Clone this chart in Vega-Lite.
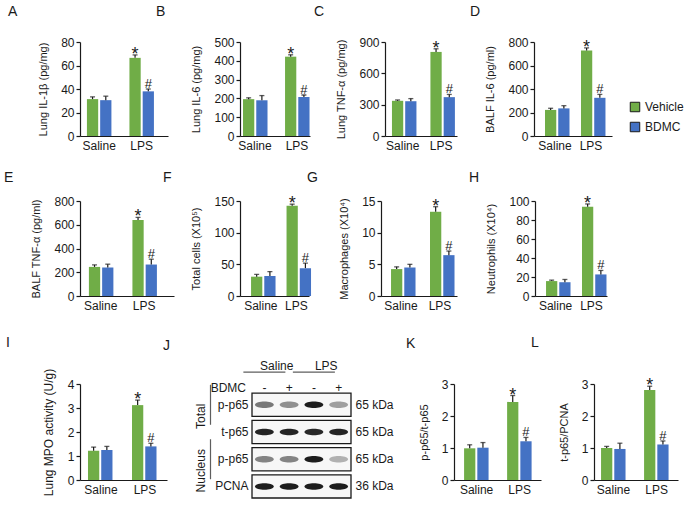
{
  "$schema": "https://vega.github.io/schema/vega-lite/v6.json",
  "background": "white",
  "padding": {"left": 4, "top": 4, "right": 5, "bottom": 5},
  "config": {
    "font": "Liberation Sans",
    "view": {"stroke": null},
    "axis": {"grid": false, "domainColor": "#1a1a1a", "tickColor": "#1a1a1a", "labelColor": "#1a1a1a", "titleColor": "#1a1a1a", "labelFontSize": 12, "titleFontSize": 11, "titleFontWeight": "normal", "domainWidth": 1.2, "tickWidth": 1.2, "labelFont": "Liberation Sans", "titleFont": "Liberation Sans"},
    "axisY": {"tickSize": 4, "labelPadding": 2, "titlePadding": 12},
    "axisX": {"ticks": false, "tickSize": 0, "labelPadding": 4, "labelAngle": 0},
    "title": {"fontSize": 14, "fontWeight": "normal", "anchor": "start", "frame": "group", "baseline": "alphabetic", "color": "#1a1a1a", "font": "Liberation Sans"},
    "legend": {"orient": "none", "legendX": 549, "legendY": 59, "labelFontSize": 12, "symbolType": "square", "symbolSize": 90, "symbolStrokeColor": "#1a1a1a", "symbolStrokeWidth": 1, "rowPadding": 6, "labelOffset": 4, "labelColor": "#1a1a1a"}
  },
  "datasets": {
    "bars": [
      {"panel": "A", "group": "Saline", "treat": "Vehicle", "value": 31.4, "hi": 33.3, "sig": ""},
      {"panel": "A", "group": "Saline", "treat": "BDMC", "value": 30.5, "hi": 33.9, "sig": ""},
      {"panel": "A", "group": "LPS", "treat": "Vehicle", "value": 66.5, "hi": 69, "sig": "*"},
      {"panel": "A", "group": "LPS", "treat": "BDMC", "value": 38, "hi": 40, "sig": "#"},
      {"panel": "B", "group": "Saline", "treat": "Vehicle", "value": 196, "hi": 203, "sig": ""},
      {"panel": "B", "group": "Saline", "treat": "BDMC", "value": 190, "hi": 215, "sig": ""},
      {"panel": "B", "group": "LPS", "treat": "Vehicle", "value": 422, "hi": 432, "sig": "*"},
      {"panel": "B", "group": "LPS", "treat": "BDMC", "value": 208, "hi": 218, "sig": "#"},
      {"panel": "C", "group": "Saline", "treat": "Vehicle", "value": 337, "hi": 345, "sig": ""},
      {"panel": "C", "group": "Saline", "treat": "BDMC", "value": 333, "hi": 358, "sig": ""},
      {"panel": "C", "group": "LPS", "treat": "Vehicle", "value": 805, "hi": 835, "sig": "*"},
      {"panel": "C", "group": "LPS", "treat": "BDMC", "value": 372, "hi": 398, "sig": "#"},
      {"panel": "D", "group": "Saline", "treat": "Vehicle", "value": 222, "hi": 236, "sig": ""},
      {"panel": "D", "group": "Saline", "treat": "BDMC", "value": 235, "hi": 258, "sig": ""},
      {"panel": "D", "group": "LPS", "treat": "Vehicle", "value": 728, "hi": 750, "sig": "*"},
      {"panel": "D", "group": "LPS", "treat": "BDMC", "value": 325, "hi": 354, "sig": "#"},
      {"panel": "E", "group": "Saline", "treat": "Vehicle", "value": 245, "hi": 262, "sig": ""},
      {"panel": "E", "group": "Saline", "treat": "BDMC", "value": 240, "hi": 268, "sig": ""},
      {"panel": "E", "group": "LPS", "treat": "Vehicle", "value": 640, "hi": 662, "sig": "*"},
      {"panel": "E", "group": "LPS", "treat": "BDMC", "value": 265, "hi": 310, "sig": "#"},
      {"panel": "F", "group": "Saline", "treat": "Vehicle", "value": 30.5, "hi": 34, "sig": ""},
      {"panel": "F", "group": "Saline", "treat": "BDMC", "value": 31.5, "hi": 38.5, "sig": ""},
      {"panel": "F", "group": "LPS", "treat": "Vehicle", "value": 142.5, "hi": 145, "sig": "*"},
      {"panel": "F", "group": "LPS", "treat": "BDMC", "value": 44, "hi": 52, "sig": "#"},
      {"panel": "G", "group": "Saline", "treat": "Vehicle", "value": 4.25, "hi": 4.6, "sig": ""},
      {"panel": "G", "group": "Saline", "treat": "BDMC", "value": 4.5, "hi": 5.0, "sig": ""},
      {"panel": "G", "group": "LPS", "treat": "Vehicle", "value": 13.3, "hi": 14.1, "sig": "*"},
      {"panel": "G", "group": "LPS", "treat": "BDMC", "value": 6.45, "hi": 7.1, "sig": "#"},
      {"panel": "H", "group": "Saline", "treat": "Vehicle", "value": 15.7, "hi": 16.7, "sig": ""},
      {"panel": "H", "group": "Saline", "treat": "BDMC", "value": 14.5, "hi": 17.4, "sig": ""},
      {"panel": "H", "group": "LPS", "treat": "Vehicle", "value": 94, "hi": 96.9, "sig": "*"},
      {"panel": "H", "group": "LPS", "treat": "BDMC", "value": 22.7, "hi": 26.9, "sig": "#"},
      {"panel": "I", "group": "Saline", "treat": "Vehicle", "value": 1.22, "hi": 1.37, "sig": ""},
      {"panel": "I", "group": "Saline", "treat": "BDMC", "value": 1.25, "hi": 1.4, "sig": ""},
      {"panel": "I", "group": "LPS", "treat": "Vehicle", "value": 3.12, "hi": 3.33, "sig": "*"},
      {"panel": "I", "group": "LPS", "treat": "BDMC", "value": 1.4, "hi": 1.53, "sig": "#"},
      {"panel": "K", "group": "Saline", "treat": "Vehicle", "value": 0.99, "hi": 1.1, "sig": ""},
      {"panel": "K", "group": "Saline", "treat": "BDMC", "value": 1.01, "hi": 1.17, "sig": ""},
      {"panel": "K", "group": "LPS", "treat": "Vehicle", "value": 2.44, "hi": 2.64, "sig": "*"},
      {"panel": "K", "group": "LPS", "treat": "BDMC", "value": 1.21, "hi": 1.33, "sig": "#"},
      {"panel": "L", "group": "Saline", "treat": "Vehicle", "value": 1.0, "hi": 1.05, "sig": ""},
      {"panel": "L", "group": "Saline", "treat": "BDMC", "value": 0.97, "hi": 1.15, "sig": ""},
      {"panel": "L", "group": "LPS", "treat": "Vehicle", "value": 2.81, "hi": 2.93, "sig": "*"},
      {"panel": "L", "group": "LPS", "treat": "BDMC", "value": 1.11, "hi": 1.22, "sig": "#"}
    ],
    "blotrows": [{"row": "r1"}, {"row": "r2"}, {"row": "r3"}, {"row": "r4"}],
    "bands": [
      {"row": "r1", "lane": 1, "level": 0.55}, {"row": "r1", "lane": 2, "level": 0.45}, {"row": "r1", "lane": 3, "level": 0.95}, {"row": "r1", "lane": 4, "level": 0.38},
      {"row": "r2", "lane": 1, "level": 0.92}, {"row": "r2", "lane": 2, "level": 0.92}, {"row": "r2", "lane": 3, "level": 0.9}, {"row": "r2", "lane": 4, "level": 0.92},
      {"row": "r3", "lane": 1, "level": 0.5}, {"row": "r3", "lane": 2, "level": 0.5}, {"row": "r3", "lane": 3, "level": 0.95}, {"row": "r3", "lane": 4, "level": 0.3},
      {"row": "r4", "lane": 1, "level": 0.95}, {"row": "r4", "lane": 2, "level": 0.95}, {"row": "r4", "lane": 3, "level": 0.95}, {"row": "r4", "lane": 4, "level": 0.95}
    ],
    "lanes": [
      {"lane": 1, "group": "Saline", "bdmc": "-"},
      {"lane": 2, "group": "Saline", "bdmc": "+"},
      {"lane": 3, "group": "LPS", "bdmc": "-"},
      {"lane": 4, "group": "LPS", "bdmc": "+"}
    ],
    "treatlabel": [{"lane": 1, "label": "BDMC"}],
    "comps": [{"comp": "Total", "row": "r1"}, {"comp": "Nucleus", "row": "r3"}]
  },
  "spacing": 24,
  "vconcat": [
    {
      "spacing": 19,
      "vconcat": [
        {
          "hconcat": [
            {
              "width": 88, "height": 94,
              "title": {"text": "A", "dx": -72, "offset": 17.5},
              "data": {"name": "bars"},
              "transform": [{"filter": "datum.panel == 'A'"}],
              "encoding": {
                "x": {"field": "group", "type": "nominal", "sort": ["Saline", "LPS"], "scale": {"paddingInner": 0.424, "paddingOuter": 0.247, "align": 0.33}, "axis": {"title": null}},
                "xOffset": {"field": "treat", "type": "nominal", "sort": ["Vehicle", "BDMC"], "scale": {"paddingInner": 0.15, "paddingOuter": 0}},
                "y": {"field": "value", "type": "quantitative", "scale": {"domain": [0, 80], "nice": false}, "axis": {"title": "Lung IL-1β (pg/mg)", "values": [0, 20, 40, 60, 80]}}
              },
              "layer": [
                {"mark": {"type": "bar"}, "encoding": {"color": {"field": "treat", "type": "nominal", "scale": {"domain": ["Vehicle", "BDMC"], "range": ["#70AD47", "#4472C4"]}, "legend": {"title": null}}}},
                {"mark": {"type": "rule", "color": "#1a1a1a", "strokeWidth": 1.2}, "encoding": {"y2": {"field": "hi"}}},
                {"mark": {"type": "tick", "color": "#1a1a1a", "size": 5, "thickness": 1.3}, "encoding": {"y": {"field": "hi", "type": "quantitative", "scale": {"domain": [0, 80], "nice": false}, "axis": {"title": "Lung IL-1β (pg/mg)", "values": [0, 20, 40, 60, 80]}}}},
                {"transform": [{"filter": "datum.sig == '*'"}], "mark": {"type": "text", "fontSize": 18, "dy": 5, "baseline": "alphabetic", "color": "#1a1a1a"}, "encoding": {"y": {"field": "hi", "type": "quantitative", "scale": {"domain": [0, 80], "nice": false}, "axis": {"title": "Lung IL-1β (pg/mg)", "values": [0, 20, 40, 60, 80]}}, "text": {"field": "sig"}}},
                {"transform": [{"filter": "datum.sig == '#'"}], "mark": {"type": "text", "fontSize": 13, "dy": -1, "baseline": "alphabetic", "color": "#1a1a1a"}, "encoding": {"y": {"field": "hi", "type": "quantitative", "scale": {"domain": [0, 80], "nice": false}, "axis": {"title": "Lung IL-1β (pg/mg)", "values": [0, 20, 40, 60, 80]}}, "text": {"field": "sig"}}}
              ]
            },
            {"width": 72, "height": 1, "data": {"values": []}, "mark": "point"},
            {
              "width": 70, "height": 94,
              "title": {"text": "B", "dx": -84, "offset": 17.5},
              "data": {"name": "bars"},
              "transform": [{"filter": "datum.panel == 'B'"}],
              "encoding": {
                "x": {"field": "group", "type": "nominal", "sort": ["Saline", "LPS"], "scale": {"paddingInner": 0.43, "paddingOuter": 0.048, "align": 0.75}, "axis": {"title": null}},
                "xOffset": {"field": "treat", "type": "nominal", "sort": ["Vehicle", "BDMC"], "scale": {"paddingInner": 0.15, "paddingOuter": 0}},
                "y": {"field": "value", "type": "quantitative", "scale": {"domain": [0, 500], "nice": false}, "axis": {"title": "Lung IL-6 (pg/mg)", "values": [0, 100, 200, 300, 400, 500]}}
              },
              "layer": [
                {"mark": {"type": "bar"}, "encoding": {"color": {"field": "treat", "type": "nominal", "scale": {"domain": ["Vehicle", "BDMC"], "range": ["#70AD47", "#4472C4"]}, "legend": {"title": null}}}},
                {"mark": {"type": "rule", "color": "#1a1a1a", "strokeWidth": 1.2}, "encoding": {"y2": {"field": "hi"}}},
                {"mark": {"type": "tick", "color": "#1a1a1a", "size": 5, "thickness": 1.3}, "encoding": {"y": {"field": "hi", "type": "quantitative", "scale": {"domain": [0, 500], "nice": false}, "axis": {"title": "Lung IL-6 (pg/mg)", "values": [0, 100, 200, 300, 400, 500]}}}},
                {"transform": [{"filter": "datum.sig == '*'"}], "mark": {"type": "text", "fontSize": 18, "dy": 5, "baseline": "alphabetic", "color": "#1a1a1a"}, "encoding": {"y": {"field": "hi", "type": "quantitative", "scale": {"domain": [0, 500], "nice": false}, "axis": {"title": "Lung IL-6 (pg/mg)", "values": [0, 100, 200, 300, 400, 500]}}, "text": {"field": "sig"}}},
                {"transform": [{"filter": "datum.sig == '#'"}], "mark": {"type": "text", "fontSize": 13, "dy": -1, "baseline": "alphabetic", "color": "#1a1a1a"}, "encoding": {"y": {"field": "hi", "type": "quantitative", "scale": {"domain": [0, 500], "nice": false}, "axis": {"title": "Lung IL-6 (pg/mg)", "values": [0, 100, 200, 300, 400, 500]}}, "text": {"field": "sig"}}}
              ]
            },
            {"width": 75, "height": 1, "data": {"values": []}, "mark": "point"},
            {
              "width": 72, "height": 94,
              "title": {"text": "C", "dx": -71, "offset": 17.5},
              "data": {"name": "bars"},
              "transform": [{"filter": "datum.panel == 'C'"}],
              "encoding": {
                "x": {"field": "group", "type": "nominal", "sort": ["Saline", "LPS"], "scale": {"paddingInner": 0.44, "paddingOuter": 0.156, "align": 0.58}, "axis": {"title": null}},
                "xOffset": {"field": "treat", "type": "nominal", "sort": ["Vehicle", "BDMC"], "scale": {"paddingInner": 0.15, "paddingOuter": 0}},
                "y": {"field": "value", "type": "quantitative", "scale": {"domain": [0, 900], "nice": false}, "axis": {"title": "Lung TNF-α (pg/mg)", "values": [0, 300, 600, 900]}}
              },
              "layer": [
                {"mark": {"type": "bar"}, "encoding": {"color": {"field": "treat", "type": "nominal", "scale": {"domain": ["Vehicle", "BDMC"], "range": ["#70AD47", "#4472C4"]}, "legend": {"title": null}}}},
                {"mark": {"type": "rule", "color": "#1a1a1a", "strokeWidth": 1.2}, "encoding": {"y2": {"field": "hi"}}},
                {"mark": {"type": "tick", "color": "#1a1a1a", "size": 5, "thickness": 1.3}, "encoding": {"y": {"field": "hi", "type": "quantitative", "scale": {"domain": [0, 900], "nice": false}, "axis": {"title": "Lung TNF-α (pg/mg)", "values": [0, 300, 600, 900]}}}},
                {"transform": [{"filter": "datum.sig == '*'"}], "mark": {"type": "text", "fontSize": 18, "dy": 5, "baseline": "alphabetic", "color": "#1a1a1a"}, "encoding": {"y": {"field": "hi", "type": "quantitative", "scale": {"domain": [0, 900], "nice": false}, "axis": {"title": "Lung TNF-α (pg/mg)", "values": [0, 300, 600, 900]}}, "text": {"field": "sig"}}},
                {"transform": [{"filter": "datum.sig == '#'"}], "mark": {"type": "text", "fontSize": 13, "dy": -1, "baseline": "alphabetic", "color": "#1a1a1a"}, "encoding": {"y": {"field": "hi", "type": "quantitative", "scale": {"domain": [0, 900], "nice": false}, "axis": {"title": "Lung TNF-α (pg/mg)", "values": [0, 300, 600, 900]}}, "text": {"field": "sig"}}}
              ]
            },
            {"width": 77, "height": 1, "data": {"values": []}, "mark": "point"},
            {
              "width": 78, "height": 94,
              "title": {"text": "D", "dx": -64, "offset": 17.5},
              "data": {"name": "bars"},
              "transform": [{"filter": "datum.panel == 'D'"}],
              "encoding": {
                "x": {"field": "group", "type": "nominal", "sort": ["Saline", "LPS"], "scale": {"paddingInner": 0.444, "paddingOuter": 0.306, "align": 0.5}, "axis": {"title": null}},
                "xOffset": {"field": "treat", "type": "nominal", "sort": ["Vehicle", "BDMC"], "scale": {"paddingInner": 0.15, "paddingOuter": 0}},
                "y": {"field": "value", "type": "quantitative", "scale": {"domain": [0, 800], "nice": false}, "axis": {"title": "BALF IL-6 (pg/ml)", "values": [0, 200, 400, 600, 800]}}
              },
              "layer": [
                {"mark": {"type": "bar"}, "encoding": {"color": {"field": "treat", "type": "nominal", "scale": {"domain": ["Vehicle", "BDMC"], "range": ["#70AD47", "#4472C4"]}, "legend": {"title": null}}}},
                {"mark": {"type": "rule", "color": "#1a1a1a", "strokeWidth": 1.2}, "encoding": {"y2": {"field": "hi"}}},
                {"mark": {"type": "tick", "color": "#1a1a1a", "size": 5, "thickness": 1.3}, "encoding": {"y": {"field": "hi", "type": "quantitative", "scale": {"domain": [0, 800], "nice": false}, "axis": {"title": "BALF IL-6 (pg/ml)", "values": [0, 200, 400, 600, 800]}}}},
                {"transform": [{"filter": "datum.sig == '*'"}], "mark": {"type": "text", "fontSize": 18, "dy": 5, "baseline": "alphabetic", "color": "#1a1a1a"}, "encoding": {"y": {"field": "hi", "type": "quantitative", "scale": {"domain": [0, 800], "nice": false}, "axis": {"title": "BALF IL-6 (pg/ml)", "values": [0, 200, 400, 600, 800]}}, "text": {"field": "sig"}}},
                {"transform": [{"filter": "datum.sig == '#'"}], "mark": {"type": "text", "fontSize": 13, "dy": -1, "baseline": "alphabetic", "color": "#1a1a1a"}, "encoding": {"y": {"field": "hi", "type": "quantitative", "scale": {"domain": [0, 800], "nice": false}, "axis": {"title": "BALF IL-6 (pg/ml)", "values": [0, 200, 400, 600, 800]}}, "text": {"field": "sig"}}}
              ]
            }
          ],
          "spacing": 0,
          "bounds": "flush"
        },
        {
          "hconcat": [
            {
              "width": 94, "height": 95,
              "title": {"text": "E", "dx": -76, "offset": 10.5},
              "data": {"name": "bars"},
              "transform": [{"filter": "datum.panel == 'E'"}],
              "encoding": {
                "x": {"field": "group", "type": "nominal", "sort": ["Saline", "LPS"], "scale": {"paddingInner": 0.46, "paddingOuter": 0.31, "align": 0.33}, "axis": {"title": null}},
                "xOffset": {"field": "treat", "type": "nominal", "sort": ["Vehicle", "BDMC"], "scale": {"paddingInner": 0.15, "paddingOuter": 0}},
                "y": {"field": "value", "type": "quantitative", "scale": {"domain": [0, 800], "nice": false}, "axis": {"title": "BALF TNF-α (pg/ml)", "values": [0, 200, 400, 600, 800]}}
              },
              "layer": [
                {"mark": {"type": "bar"}, "encoding": {"color": {"field": "treat", "type": "nominal", "scale": {"domain": ["Vehicle", "BDMC"], "range": ["#70AD47", "#4472C4"]}, "legend": {"title": null}}}},
                {"mark": {"type": "rule", "color": "#1a1a1a", "strokeWidth": 1.2}, "encoding": {"y2": {"field": "hi"}}},
                {"mark": {"type": "tick", "color": "#1a1a1a", "size": 5, "thickness": 1.3}, "encoding": {"y": {"field": "hi", "type": "quantitative", "scale": {"domain": [0, 800], "nice": false}, "axis": {"title": "BALF TNF-α (pg/ml)", "values": [0, 200, 400, 600, 800]}}}},
                {"transform": [{"filter": "datum.sig == '*'"}], "mark": {"type": "text", "fontSize": 18, "dy": 5, "baseline": "alphabetic", "color": "#1a1a1a"}, "encoding": {"y": {"field": "hi", "type": "quantitative", "scale": {"domain": [0, 800], "nice": false}, "axis": {"title": "BALF TNF-α (pg/ml)", "values": [0, 200, 400, 600, 800]}}, "text": {"field": "sig"}}},
                {"transform": [{"filter": "datum.sig == '#'"}], "mark": {"type": "text", "fontSize": 13, "dy": -1, "baseline": "alphabetic", "color": "#1a1a1a"}, "encoding": {"y": {"field": "hi", "type": "quantitative", "scale": {"domain": [0, 800], "nice": false}, "axis": {"title": "BALF TNF-α (pg/ml)", "values": [0, 200, 400, 600, 800]}}, "text": {"field": "sig"}}}
              ]
            },
            {"width": 66, "height": 1, "data": {"values": []}, "mark": "point"},
            {
              "width": 69, "height": 95,
              "title": {"text": "F", "dx": -77, "offset": 10.5},
              "data": {"name": "bars"},
              "transform": [{"filter": "datum.panel == 'F'"}],
              "encoding": {
                "x": {"field": "group", "type": "nominal", "sort": ["Saline", "LPS"], "scale": {"paddingInner": 0.45, "paddingOuter": 0.197, "align": 0.79}, "axis": {"title": null}},
                "xOffset": {"field": "treat", "type": "nominal", "sort": ["Vehicle", "BDMC"], "scale": {"paddingInner": 0.15, "paddingOuter": 0}},
                "y": {"field": "value", "type": "quantitative", "scale": {"domain": [0, 150], "nice": false}, "axis": {"title": "Total cells (X10⁵)", "values": [0, 50, 100, 150]}}
              },
              "layer": [
                {"mark": {"type": "bar"}, "encoding": {"color": {"field": "treat", "type": "nominal", "scale": {"domain": ["Vehicle", "BDMC"], "range": ["#70AD47", "#4472C4"]}, "legend": {"title": null}}}},
                {"mark": {"type": "rule", "color": "#1a1a1a", "strokeWidth": 1.2}, "encoding": {"y2": {"field": "hi"}}},
                {"mark": {"type": "tick", "color": "#1a1a1a", "size": 5, "thickness": 1.3}, "encoding": {"y": {"field": "hi", "type": "quantitative", "scale": {"domain": [0, 150], "nice": false}, "axis": {"title": "Total cells (X10⁵)", "values": [0, 50, 100, 150]}}}},
                {"transform": [{"filter": "datum.sig == '*'"}], "mark": {"type": "text", "fontSize": 18, "dy": 5, "baseline": "alphabetic", "color": "#1a1a1a"}, "encoding": {"y": {"field": "hi", "type": "quantitative", "scale": {"domain": [0, 150], "nice": false}, "axis": {"title": "Total cells (X10⁵)", "values": [0, 50, 100, 150]}}, "text": {"field": "sig"}}},
                {"transform": [{"filter": "datum.sig == '#'"}], "mark": {"type": "text", "fontSize": 13, "dy": -1, "baseline": "alphabetic", "color": "#1a1a1a"}, "encoding": {"y": {"field": "hi", "type": "quantitative", "scale": {"domain": [0, 150], "nice": false}, "axis": {"title": "Total cells (X10⁵)", "values": [0, 50, 100, 150]}}, "text": {"field": "sig"}}}
              ]
            },
            {"width": 72, "height": 1, "data": {"values": []}, "mark": "point"},
            {
              "width": 76, "height": 95,
              "title": {"text": "G", "dx": -74, "offset": 10.5},
              "data": {"name": "bars"},
              "transform": [{"filter": "datum.panel == 'G'"}],
              "encoding": {
                "x": {"field": "group", "type": "nominal", "sort": ["Saline", "LPS"], "scale": {"paddingInner": 0.487, "paddingOuter": 0.218, "align": 0.59}, "axis": {"title": null}},
                "xOffset": {"field": "treat", "type": "nominal", "sort": ["Vehicle", "BDMC"], "scale": {"paddingInner": 0.15, "paddingOuter": 0}},
                "y": {"field": "value", "type": "quantitative", "scale": {"domain": [0, 15], "nice": false}, "axis": {"title": "Macrophages (X10⁴)", "values": [0, 5, 10, 15]}}
              },
              "layer": [
                {"mark": {"type": "bar"}, "encoding": {"color": {"field": "treat", "type": "nominal", "scale": {"domain": ["Vehicle", "BDMC"], "range": ["#70AD47", "#4472C4"]}, "legend": {"title": null}}}},
                {"mark": {"type": "rule", "color": "#1a1a1a", "strokeWidth": 1.2}, "encoding": {"y2": {"field": "hi"}}},
                {"mark": {"type": "tick", "color": "#1a1a1a", "size": 5, "thickness": 1.3}, "encoding": {"y": {"field": "hi", "type": "quantitative", "scale": {"domain": [0, 15], "nice": false}, "axis": {"title": "Macrophages (X10⁴)", "values": [0, 5, 10, 15]}}}},
                {"transform": [{"filter": "datum.sig == '*'"}], "mark": {"type": "text", "fontSize": 18, "dy": 5, "baseline": "alphabetic", "color": "#1a1a1a"}, "encoding": {"y": {"field": "hi", "type": "quantitative", "scale": {"domain": [0, 15], "nice": false}, "axis": {"title": "Macrophages (X10⁴)", "values": [0, 5, 10, 15]}}, "text": {"field": "sig"}}},
                {"transform": [{"filter": "datum.sig == '#'"}], "mark": {"type": "text", "fontSize": 13, "dy": -1, "baseline": "alphabetic", "color": "#1a1a1a"}, "encoding": {"y": {"field": "hi", "type": "quantitative", "scale": {"domain": [0, 15], "nice": false}, "axis": {"title": "Macrophages (X10⁴)", "values": [0, 5, 10, 15]}}, "text": {"field": "sig"}}}
              ]
            },
            {"width": 78, "height": 1, "data": {"values": []}, "mark": "point"},
            {
              "width": 72, "height": 95,
              "title": {"text": "H", "dx": -66, "offset": 10},
              "data": {"name": "bars"},
              "transform": [{"filter": "datum.panel == 'H'"}],
              "encoding": {
                "x": {"field": "group", "type": "nominal", "sort": ["Saline", "LPS"], "scale": {"paddingInner": 0.47, "paddingOuter": 0.236, "align": 0.65}, "axis": {"title": null}},
                "xOffset": {"field": "treat", "type": "nominal", "sort": ["Vehicle", "BDMC"], "scale": {"paddingInner": 0.15, "paddingOuter": 0}},
                "y": {"field": "value", "type": "quantitative", "scale": {"domain": [0, 100], "nice": false}, "axis": {"title": "Neutrophils (X10⁴)", "values": [0, 20, 40, 60, 80, 100]}}
              },
              "layer": [
                {"mark": {"type": "bar"}, "encoding": {"color": {"field": "treat", "type": "nominal", "scale": {"domain": ["Vehicle", "BDMC"], "range": ["#70AD47", "#4472C4"]}, "legend": {"title": null}}}},
                {"mark": {"type": "rule", "color": "#1a1a1a", "strokeWidth": 1.2}, "encoding": {"y2": {"field": "hi"}}},
                {"mark": {"type": "tick", "color": "#1a1a1a", "size": 5, "thickness": 1.3}, "encoding": {"y": {"field": "hi", "type": "quantitative", "scale": {"domain": [0, 100], "nice": false}, "axis": {"title": "Neutrophils (X10⁴)", "values": [0, 20, 40, 60, 80, 100]}}}},
                {"transform": [{"filter": "datum.sig == '*'"}], "mark": {"type": "text", "fontSize": 18, "dy": 5, "baseline": "alphabetic", "color": "#1a1a1a"}, "encoding": {"y": {"field": "hi", "type": "quantitative", "scale": {"domain": [0, 100], "nice": false}, "axis": {"title": "Neutrophils (X10⁴)", "values": [0, 20, 40, 60, 80, 100]}}, "text": {"field": "sig"}}},
                {"transform": [{"filter": "datum.sig == '#'"}], "mark": {"type": "text", "fontSize": 13, "dy": -1, "baseline": "alphabetic", "color": "#1a1a1a"}, "encoding": {"y": {"field": "hi", "type": "quantitative", "scale": {"domain": [0, 100], "nice": false}, "axis": {"title": "Neutrophils (X10⁴)", "values": [0, 20, 40, 60, 80, 100]}}, "text": {"field": "sig"}}}
              ]
            }
          ],
          "spacing": 0,
          "bounds": "flush"
        }
      ]
    },
    {
      "hconcat": [
        {
          "width": 87, "height": 96,
          "title": {"text": "I", "dx": -74, "offset": 18.5},
          "data": {"name": "bars"},
          "transform": [{"filter": "datum.panel == 'I'"}],
          "encoding": {
            "x": {"field": "group", "type": "nominal", "sort": ["Saline", "LPS"], "scale": {"paddingInner": 0.41, "paddingOuter": 0.193, "align": 0.47}, "axis": {"title": null}},
            "xOffset": {"field": "treat", "type": "nominal", "sort": ["Vehicle", "BDMC"], "scale": {"paddingInner": 0.15, "paddingOuter": 0}},
            "y": {"field": "value", "type": "quantitative", "scale": {"domain": [0, 4], "nice": false}, "axis": {"title": "Lung MPO activity (U/g)", "titleFontSize": 12, "values": [0, 1, 2, 3, 4]}}
          },
          "layer": [
            {"mark": {"type": "bar"}, "encoding": {"color": {"field": "treat", "type": "nominal", "scale": {"domain": ["Vehicle", "BDMC"], "range": ["#70AD47", "#4472C4"]}, "legend": {"title": null}}}},
            {"mark": {"type": "rule", "color": "#1a1a1a", "strokeWidth": 1.2}, "encoding": {"y2": {"field": "hi"}}},
            {"mark": {"type": "tick", "color": "#1a1a1a", "size": 5, "thickness": 1.3}, "encoding": {"y": {"field": "hi", "type": "quantitative", "scale": {"domain": [0, 4], "nice": false}, "axis": {"title": "Lung MPO activity (U/g)", "titleFontSize": 12, "values": [0, 1, 2, 3, 4]}}}},
            {"transform": [{"filter": "datum.sig == '*'"}], "mark": {"type": "text", "fontSize": 18, "dy": 5, "baseline": "alphabetic", "color": "#1a1a1a"}, "encoding": {"y": {"field": "hi", "type": "quantitative", "scale": {"domain": [0, 4], "nice": false}, "axis": {"title": "Lung MPO activity (U/g)", "titleFontSize": 12, "values": [0, 1, 2, 3, 4]}}, "text": {"field": "sig"}}},
            {"transform": [{"filter": "datum.sig == '#'"}], "mark": {"type": "text", "fontSize": 13, "dy": -1, "baseline": "alphabetic", "color": "#1a1a1a"}, "encoding": {"y": {"field": "hi", "type": "quantitative", "scale": {"domain": [0, 4], "nice": false}, "axis": {"title": "Lung MPO activity (U/g)", "titleFontSize": 12, "values": [0, 1, 2, 3, 4]}}, "text": {"field": "sig"}}}
          ]
        },
        {"width": 85, "height": 1, "data": {"values": []}, "mark": "point"},
        {
          "width": 99, "height": 132,
          "title": {"text": "J", "dx": -89, "offset": 7.5},
          "resolve": {"axis": {"y": "independent"}},
          "layer": [
            {
              "data": {"name": "blotrows"},
              "mark": {"type": "rect", "fill": "#f7f7f7", "stroke": "#1a1a1a", "strokeWidth": 1.3},
              "encoding": {
                "y": {"field": "row", "type": "nominal", "scale": {"domain": ["hdr", "r1", "r2", "r3", "r4"], "paddingInner": 0.15, "paddingOuter": 0}, "axis": {"orient": "right", "labelExpr": "datum.value == 'r4' ? '36 kDa' : (datum.value == 'hdr' ? '' : '65 kDa')", "ticks": false, "domain": false, "labelPadding": 4, "title": null}}
              }
            },
            {
              "data": {"name": "bands"},
              "mark": {"type": "point", "shape": "M-1,0C-0.9,-0.45 0.9,-0.45 1,0C0.9,0.45 -0.9,0.45 -1,0Z", "filled": true, "color": "#111111", "size": 361},
              "encoding": {
                "x": {"field": "lane", "type": "ordinal", "scale": {"paddingInner": 0, "paddingOuter": 0}, "axis": null},
                "y": {"field": "row", "type": "nominal", "scale": {"domain": ["hdr", "r1", "r2", "r3", "r4"], "paddingInner": 0.15, "paddingOuter": 0}, "axis": {"orient": "left", "labelExpr": "datum.value == 'hdr' ? '' : (datum.value == 'r2' ? 't-p65' : (datum.value == 'r4' ? 'PCNA' : 'p-p65'))", "ticks": false, "domain": false, "labelPadding": 4, "title": null}},
                "opacity": {"field": "level", "type": "quantitative", "scale": {"domain": [0, 1], "range": [0, 1]}, "legend": null}
              }
            },
            {
              "data": {"name": "lanes"},
              "mark": {"type": "text", "dy": 10, "fontSize": 12, "color": "#1a1a1a"},
              "encoding": {
                "x": {"field": "lane", "type": "ordinal", "scale": {"paddingInner": 0, "paddingOuter": 0}, "axis": null},
                "y": {"datum": "hdr", "type": "nominal", "scale": {"domain": ["hdr", "r1", "r2", "r3", "r4"], "paddingInner": 0.15, "paddingOuter": 0}, "axis": null},
                "text": {"field": "bdmc"}
              }
            },
            {
              "data": {"name": "treatlabel"},
              "mark": {"type": "text", "dy": 10, "dx": -6, "align": "right", "fontSize": 12, "color": "#1a1a1a"},
              "encoding": {
                "x": {"field": "lane", "type": "ordinal", "bandPosition": 0, "scale": {"paddingInner": 0, "paddingOuter": 0}, "axis": null},
                "y": {"datum": "hdr", "type": "nominal", "scale": {"domain": ["hdr", "r1", "r2", "r3", "r4"], "paddingInner": 0.15, "paddingOuter": 0}, "axis": null},
                "text": {"field": "label"}
              }
            },
            {
              "data": {"name": "lanes"},
              "transform": [{"filter": "datum.bdmc == '-'"}],
              "mark": {"type": "text", "dy": -11.5, "fontSize": 12, "color": "#1a1a1a"},
              "encoding": {
                "x": {"field": "lane", "type": "ordinal", "bandPosition": 1, "scale": {"paddingInner": 0, "paddingOuter": 0}, "axis": null},
                "y": {"datum": "hdr", "type": "nominal", "scale": {"domain": ["hdr", "r1", "r2", "r3", "r4"], "paddingInner": 0.15, "paddingOuter": 0}, "axis": null},
                "text": {"field": "group"}
              }
            },
            {
              "data": {"name": "lanes"},
              "transform": [{"filter": "datum.bdmc == '-'"}],
              "mark": {"type": "tick", "orient": "horizontal", "size": 42, "thickness": 1.2, "yOffset": -5.5, "color": "#1a1a1a"},
              "encoding": {
                "x": {"field": "lane", "type": "ordinal", "bandPosition": 1, "scale": {"paddingInner": 0, "paddingOuter": 0}, "axis": null},
                "y": {"datum": "hdr", "type": "nominal", "scale": {"domain": ["hdr", "r1", "r2", "r3", "r4"], "paddingInner": 0.15, "paddingOuter": 0}, "axis": null}
              }
            },
            {
              "data": {"name": "comps"},
              "mark": {"type": "text", "angle": 270, "xOffset": -101, "fontSize": 12, "color": "#1a1a1a", "baseline": "middle"},
              "encoding": {
                "y": {"field": "row", "type": "nominal", "bandPosition": 1, "scale": {"domain": ["hdr", "r1", "r2", "r3", "r4"], "paddingInner": 0.15, "paddingOuter": 0}, "axis": null},
                "text": {"field": "comp"}
              }
            },
            {
              "data": {"name": "comps"},
              "mark": {"type": "tick", "orient": "vertical", "size": 40, "thickness": 1.2, "xOffset": -91, "color": "#1a1a1a"},
              "encoding": {
                "y": {"field": "row", "type": "nominal", "bandPosition": 1, "scale": {"domain": ["hdr", "r1", "r2", "r3", "r4"], "paddingInner": 0.15, "paddingOuter": 0}, "axis": null}
              }
            }
          ]
        },
        {"width": 103, "height": 1, "data": {"values": []}, "mark": "point"},
        {
          "width": 87, "height": 96,
          "title": {"text": "K", "dx": -48, "offset": 27.5},
          "data": {"name": "bars"},
          "transform": [{"filter": "datum.panel == 'K'"}],
          "encoding": {
            "x": {"field": "group", "type": "nominal", "sort": ["Saline", "LPS"], "scale": {"paddingInner": 0.42, "paddingOuter": 0.221, "align": 0.53}, "axis": {"title": null}},
            "xOffset": {"field": "treat", "type": "nominal", "sort": ["Vehicle", "BDMC"], "scale": {"paddingInner": 0.15, "paddingOuter": 0}},
            "y": {"field": "value", "type": "quantitative", "scale": {"domain": [0, 3], "nice": false}, "axis": {"title": "p-p65/t-p65", "values": [0, 1, 2, 3]}}
          },
          "layer": [
            {"mark": {"type": "bar"}, "encoding": {"color": {"field": "treat", "type": "nominal", "scale": {"domain": ["Vehicle", "BDMC"], "range": ["#70AD47", "#4472C4"]}, "legend": {"title": null}}}},
            {"mark": {"type": "rule", "color": "#1a1a1a", "strokeWidth": 1.2}, "encoding": {"y2": {"field": "hi"}}},
            {"mark": {"type": "tick", "color": "#1a1a1a", "size": 5, "thickness": 1.3}, "encoding": {"y": {"field": "hi", "type": "quantitative", "scale": {"domain": [0, 3], "nice": false}, "axis": {"title": "p-p65/t-p65", "values": [0, 1, 2, 3]}}}},
            {"transform": [{"filter": "datum.sig == '*'"}], "mark": {"type": "text", "fontSize": 18, "dy": 5, "baseline": "alphabetic", "color": "#1a1a1a"}, "encoding": {"y": {"field": "hi", "type": "quantitative", "scale": {"domain": [0, 3], "nice": false}, "axis": {"title": "p-p65/t-p65", "values": [0, 1, 2, 3]}}, "text": {"field": "sig"}}},
            {"transform": [{"filter": "datum.sig == '#'"}], "mark": {"type": "text", "fontSize": 13, "dy": -1, "baseline": "alphabetic", "color": "#1a1a1a"}, "encoding": {"y": {"field": "hi", "type": "quantitative", "scale": {"domain": [0, 3], "nice": false}, "axis": {"title": "p-p65/t-p65", "values": [0, 1, 2, 3]}}, "text": {"field": "sig"}}}
          ]
        },
        {"width": 53, "height": 1, "data": {"values": []}, "mark": "point"},
        {
          "width": 84, "height": 96,
          "title": {"text": "L", "dx": -63, "offset": 27.5},
          "data": {"name": "bars"},
          "transform": [{"filter": "datum.panel == 'L'"}],
          "encoding": {
            "x": {"field": "group", "type": "nominal", "sort": ["Saline", "LPS"], "scale": {"paddingInner": 0.42, "paddingOuter": 0.186, "align": 0.44}, "axis": {"title": null}},
            "xOffset": {"field": "treat", "type": "nominal", "sort": ["Vehicle", "BDMC"], "scale": {"paddingInner": 0.15, "paddingOuter": 0}},
            "y": {"field": "value", "type": "quantitative", "scale": {"domain": [0, 3], "nice": false}, "axis": {"title": "t-p65/PCNA", "values": [0, 1, 2, 3]}}
          },
          "layer": [
            {"mark": {"type": "bar"}, "encoding": {"color": {"field": "treat", "type": "nominal", "scale": {"domain": ["Vehicle", "BDMC"], "range": ["#70AD47", "#4472C4"]}, "legend": {"title": null}}}},
            {"mark": {"type": "rule", "color": "#1a1a1a", "strokeWidth": 1.2}, "encoding": {"y2": {"field": "hi"}}},
            {"mark": {"type": "tick", "color": "#1a1a1a", "size": 5, "thickness": 1.3}, "encoding": {"y": {"field": "hi", "type": "quantitative", "scale": {"domain": [0, 3], "nice": false}, "axis": {"title": "t-p65/PCNA", "values": [0, 1, 2, 3]}}}},
            {"transform": [{"filter": "datum.sig == '*'"}], "mark": {"type": "text", "fontSize": 18, "dy": 5, "baseline": "alphabetic", "color": "#1a1a1a"}, "encoding": {"y": {"field": "hi", "type": "quantitative", "scale": {"domain": [0, 3], "nice": false}, "axis": {"title": "t-p65/PCNA", "values": [0, 1, 2, 3]}}, "text": {"field": "sig"}}},
            {"transform": [{"filter": "datum.sig == '#'"}], "mark": {"type": "text", "fontSize": 13, "dy": -1, "baseline": "alphabetic", "color": "#1a1a1a"}, "encoding": {"y": {"field": "hi", "type": "quantitative", "scale": {"domain": [0, 3], "nice": false}, "axis": {"title": "t-p65/PCNA", "values": [0, 1, 2, 3]}}, "text": {"field": "sig"}}}
          ]
        }
      ],
      "spacing": 0,
      "bounds": "flush",
      "center": true
    }
  ]
}
